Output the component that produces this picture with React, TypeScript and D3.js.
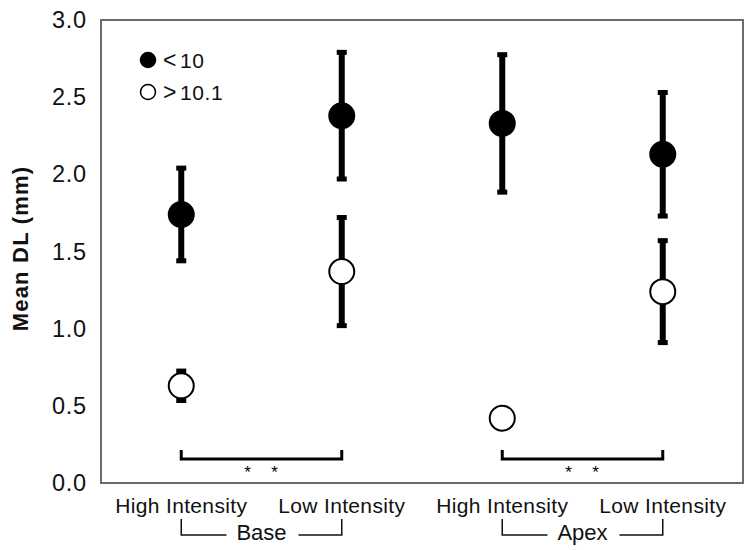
import React from "react";
import * as d3 from "d3";

const categories = ["Base High", "Base Low", "Apex High", "Apex Low"];
const tickLabels = ["High Intensity", "Low Intensity", "High Intensity", "Low Intensity"];
const groups = ["Base", "Apex"];
const yTicks = [0, 0.5, 1.0, 1.5, 2.0, 2.5, 3.0];
const seriesSymbols = ["<", ">"];
const seriesValues = ["10", "10.1"];
const lowMeans = [1.74, 2.38, 2.33, 2.13];
const lowErr = [0.31, 0.42, 0.455, 0.41];
const highMeans = [0.63, 1.37, 0.42, 1.24];
const highErr = [0.105, 0.36, 0, 0.34];

const W = 750, H = 550;
const left = 101, right = 743, top = 20, bottom = 483;

export default function App() {
  const x = d3.scaleBand<string>().domain(categories).range([left, right]).paddingInner(0).paddingOuter(0);
  const cx = (c: string) => (x(c) as number) + x.bandwidth() / 2;
  const y = d3.scaleLinear().domain([0, 3]).range([bottom, top]);
  const font = "Liberation Sans, Arial, Helvetica, sans-serif";

  const series = [
    { sym: seriesSymbols[0], val: seriesValues[0], means: lowMeans, errs: lowErr, fill: "#000" },
    { sym: seriesSymbols[1], val: seriesValues[1], means: highMeans, errs: highErr, fill: "#fff" },
  ];

  const bracketY = y(0.155);
  return (
    <svg width={W} height={H} style={{ position: "absolute", left: 0, top: 0, background: "#fff" }} fontFamily={font}>
      <rect x={left} y={top} width={right - left} height={bottom - top} fill="none" stroke="#6b6b6b" strokeWidth={2} />
      {yTicks.map((t) => (
        <text key={t} x={87} y={y(t)} textAnchor="end" dominantBaseline="central" fontSize={23.5} letterSpacing={0.8} fill="#111">
          {t.toFixed(1)}
        </text>
      ))}
      <text transform={`translate(20,${(top + bottom) / 2 - 3}) rotate(-90)`} textAnchor="middle" dominantBaseline="central" fontSize={22} letterSpacing={1.2} fontWeight="bold" fill="#111">
        Mean DL (mm)
      </text>
      {series.map((s, si) => (
        <g key={s.sym}>
          {categories.map((c, i) => {
            const e = s.errs[i];
            if (e <= 0) return null;
            const y1 = y(s.means[i] + e), y2 = y(s.means[i] - e);
            return (
              <g key={c}>
                <line x1={cx(c)} x2={cx(c)} y1={y1} y2={y2} stroke="#000" strokeWidth={6} />
                <rect x={cx(c) - 5} y={y1 - 1} width={10} height={5} fill="#000" />
                <rect x={cx(c) - 5} y={y2 - 4} width={10} height={5} fill="#000" />
              </g>
            );
          })}
          {categories.map((c, i) => (
            <circle key={c} cx={cx(c)} cy={y(s.means[i])} r={12.5} fill={s.fill} stroke="#000" strokeWidth={2} />
          ))}
        </g>
      ))}
      {/* significance brackets */}
      {groups.map((g, gi) => {
        const a = cx(categories[gi * 2]), b = cx(categories[gi * 2 + 1]);
        const m = (a + b) / 2;
        return (
          <g key={g}>
            <path d={`M${a},${bracketY - 9}V${bracketY}H${b}V${bracketY - 9}`} fill="none" stroke="#000" strokeWidth={3} />
            <text x={m - 14} y={bracketY + 19} textAnchor="middle" fontSize={17} fill="#000">*</text>
            <text x={m + 13} y={bracketY + 19} textAnchor="middle" fontSize={17} fill="#000">*</text>
          </g>
        );
      })}
      {/* category labels */}
      {categories.map((c, i) => (
        <text key={c} x={cx(c)} y={505} textAnchor="middle" dominantBaseline="central" fontSize={21} letterSpacing={0.35} fill="#111">
          {tickLabels[i]}
        </text>
      ))}
      {groups.map((g, gi) => {
        const a = cx(categories[gi * 2]), b = cx(categories[gi * 2 + 1]);
        const m = (a + b) / 2;
        const ly = 535;
        return (
          <g key={g}>
            <path d={`M${a},519V${ly}H${m - 35}`} fill="none" stroke="#111" strokeWidth={1.5} />
            <path d={`M${m + 37},${ly}H${b}V519`} fill="none" stroke="#111" strokeWidth={1.5} />
            <text x={m} y={532} textAnchor="middle" dominantBaseline="central" fontSize={22} fill="#111">{g}</text>
          </g>
        );
      })}
      {/* legend */}
      {series.map((s, si) => (
        <g key={s.sym}>
          <circle cx={148} cy={60 + si * 32} r={7.5} fill={s.fill} stroke="#000" strokeWidth={1.5} />
          <text x={163} y={60 + si * 32} dominantBaseline="central" fontSize={21} letterSpacing={0.6} fill="#111">
            <tspan fontSize={23}>{s.sym}</tspan>
            <tspan dx={3}>{s.val}</tspan>
          </text>
        </g>
      ))}
    </svg>
  );
}
